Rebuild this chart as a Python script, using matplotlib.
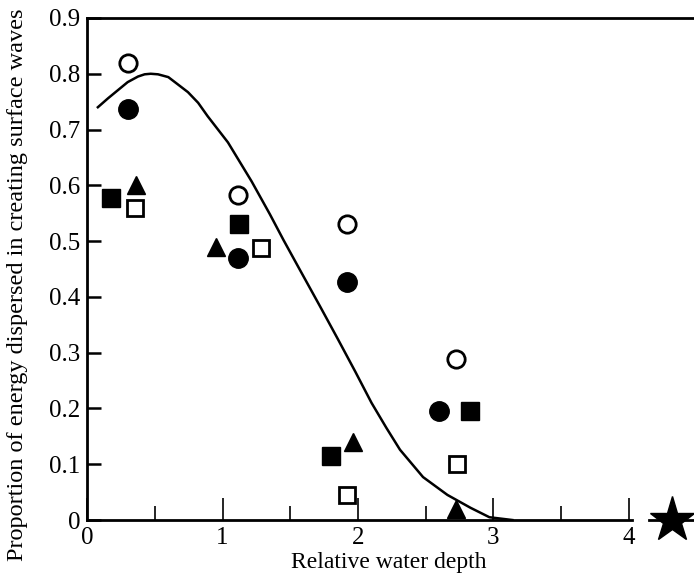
import numpy as np
import matplotlib
matplotlib.use('Agg')
import matplotlib.pyplot as plt
from matplotlib.ticker import FixedLocator

plt.rcParams['font.family'] = ['Liberation Serif', 'DejaVu Serif']
plt.rcParams['font.size'] = 17

# ---- data ----
open_circle_x = [0.30, 1.115, 1.92, 2.72]
open_circle_y = [0.819, 0.583, 0.530, 0.289]

filled_circle_x = [0.30, 1.115, 1.92, 2.60]
filled_circle_y = [0.736, 0.470, 0.426, 0.196]

filled_square_x = [0.18, 1.12, 1.80, 2.83]
filled_square_y = [0.578, 0.531, 0.115, 0.196]

open_square_x = [0.355, 1.285, 1.92, 2.73]
open_square_y = [0.560, 0.488, 0.045, 0.100]

triangle_x = [0.36, 0.95, 1.96, 2.72]
triangle_y = [0.600, 0.490, 0.140, 0.020]

star_x = [4.32]
star_y = [0.0]

curve_x = [0.08, 0.155, 0.23, 0.30, 0.376, 0.425, 0.47, 0.524, 0.60, 0.67, 0.745, 0.82,
           0.89, 1.04, 1.215, 1.35, 1.45, 1.57, 1.72, 1.85, 1.98, 2.10, 2.21, 2.31,
           2.48, 2.66, 2.83, 2.97, 3.14]
curve_y = [0.740, 0.756, 0.771, 0.785, 0.795, 0.799, 0.800, 0.799, 0.794, 0.781, 0.767, 0.748,
           0.724, 0.677, 0.607, 0.548, 0.502, 0.449, 0.383, 0.325, 0.266, 0.210, 0.165, 0.126,
           0.077, 0.045, 0.022, 0.005, 0.0]

y_ticks = [0, 0.1, 0.2, 0.3, 0.4, 0.5, 0.6, 0.7, 0.8, 0.9]
y_ticklabels = ['0', '0.1', '0.2', '0.3', '0.4', '0.5', '0.6', '0.7', '0.8', '0.9']
x_ticks = [0, 1, 2, 3, 4]
x_minor = [0.5, 1.5, 2.5, 3.5]

fig = plt.figure(figsize=(6.94, 5.78), dpi=100)
ax = fig.add_axes([0.1254, 0.1003, 0.8746, 0.8686])

ax.plot(curve_x, curve_y, color='black', lw=1.8, solid_joinstyle='round')

ax.plot(open_circle_x, open_circle_y, 'o', ms=12.5, mfc='white', mec='black', mew=2, clip_on=False)
ax.plot(filled_circle_x, filled_circle_y, 'o', ms=14, color='black', clip_on=False)
ax.plot(filled_square_x, filled_square_y, 's', ms=13.5, color='black', clip_on=False)
ax.plot(open_square_x, open_square_y, 's', ms=12, mfc='white', mec='black', mew=2, clip_on=False)
ax.plot(triangle_x, triangle_y, '^', ms=13, color='black', clip_on=False)

ax.set_xlim(0, 4.48)
ax.set_ylim(0, 0.9)

# broken bottom axis beyond 4
ax.spines['right'].set_visible(False)
ax.spines['bottom'].set_bounds(0, 4.02)
for s in ['left', 'bottom', 'top']:
    ax.spines[s].set_linewidth(2.0)
ax.plot([4.15, 4.48], [0, 0], color='black', lw=2.0, clip_on=False, zorder=3)
ax.plot(star_x, star_y, '*', ms=34, color='black', clip_on=False, zorder=4)

ax.xaxis.set_major_locator(FixedLocator(x_ticks))
ax.xaxis.set_minor_locator(FixedLocator(x_minor))
ax.set_xticklabels([str(t) for t in x_ticks])
ax.set_yticks(y_ticks)
ax.set_yticklabels(y_ticklabels)

ax.tick_params(axis='x', which='major', direction='in', length=16, width=1.2, pad=5, top=False, labelsize=18)
ax.tick_params(axis='x', which='minor', direction='in', length=10, width=1.2, top=False)
ax.tick_params(axis='y', which='major', direction='in', length=10, width=1.8, pad=5, right=False, labelsize=18)

ax.set_xlabel('Relative water depth')
ax.set_ylabel('Proportion of energy dispersed in creating surface waves', fontsize=17.5)
ax.xaxis.set_label_coords(0.497, -0.064)
ax.yaxis.set_label_coords(-0.097, 0.468)

fig.savefig('out.png', dpi=100)
